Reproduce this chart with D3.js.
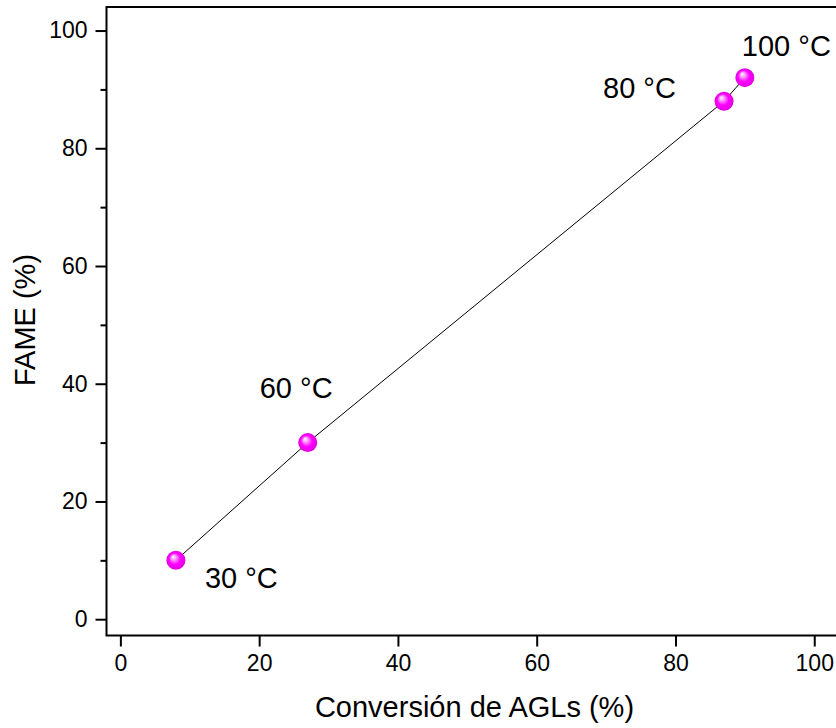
<!DOCTYPE html>
<html><head><meta charset="utf-8">
<script src="https://d3js.org/d3.v7.min.js"></script>
<style>body{margin:0;background:#fff}svg{display:block;font-family:"Liberation Sans",Arial,sans-serif}</style>
</head><body>
<svg id="c" width="836" height="728"></svg>
<script>
const conversion = [8, 27, 87, 90];
const fame = [10, 30, 88, 92];
const labels = ["30 °C", "60 °C", "80 °C", "100 °C"];
const xTicks = [0, 20, 40, 60, 80, 100];
const yTicks = [0, 20, 40, 60, 80, 100];
const yMinor = [10, 30, 50, 70, 90];

const svg = d3.select("#c");
const L = 106.5, R = 842, T = 7, B = 635.5;
const x = d3.scaleLinear().domain([-2, 104]).range([L, R]);
const y = d3.scaleLinear().domain([-2.77, 104]).range([B, T]);

const defs = svg.append("defs");
const g = defs.append("radialGradient").attr("id","ball").attr("cx","0.5").attr("cy","0.5").attr("r","0.5").attr("fx","0.35").attr("fy","0.3");
g.append("stop").attr("offset","0").attr("stop-color","#ffffff");
g.append("stop").attr("offset","0.25").attr("stop-color","#ff9cff");
g.append("stop").attr("offset","0.6").attr("stop-color","#ff00ff");
g.append("stop").attr("offset","1").attr("stop-color","#e000e0");

// frame
svg.append("rect").attr("x",L).attr("y",T).attr("width",R-L).attr("height",B-T)
  .attr("fill","none").attr("stroke","#000").attr("stroke-width",2);

svg.append("g").attr("transform",`translate(0,${B})`)
  .call(d3.axisBottom(x).tickValues(xTicks).tickSize(11).tickPadding(8));
svg.append("g").attr("transform",`translate(${L},0)`)
  .call(d3.axisLeft(y).tickValues(yTicks).tickSize(11).tickPadding(8));
svg.append("g").attr("transform",`translate(${L},0)`)
  .call(d3.axisLeft(y).tickValues(yMinor).tickSize(6).tickFormat(""));
svg.selectAll(".domain").remove();
svg.selectAll(".tick line").attr("stroke","#000").attr("stroke-width",2);
svg.selectAll(".tick text").attr("font-size",23).attr("fill","#000").attr("font-family","Liberation Sans, Arial, sans-serif");

// line
const line = d3.line().x((d,i)=>x(conversion[i])).y((d,i)=>y(fame[i]));
svg.append("path").datum(fame).attr("d",line).attr("fill","none").attr("stroke","#000").attr("stroke-width",1);

// markers
svg.selectAll("circle.pt").data(fame).enter().append("circle").attr("class","pt")
  .attr("cx",(d,i)=>x(conversion[i])).attr("cy",d=>y(d)).attr("r",9.5).attr("fill","url(#ball)");

// labels
const off = [[29,28],[-48,-45],[-121,-3],[-3,-22]];
svg.selectAll("text.lab").data(labels).enter().append("text").attr("class","lab")
  .attr("x",(d,i)=>x(conversion[i])+off[i][0]).attr("y",(d,i)=>y(fame[i])+off[i][1])
  .attr("font-size",29).attr("fill","#000").text(d=>d);

// axis titles
svg.append("text").attr("x",474.5).attr("y",716.5).attr("text-anchor","middle").attr("font-size",29).text("Conversión de AGLs (%)");
svg.append("text").attr("transform","translate(35,320) rotate(-90)").attr("text-anchor","middle").attr("font-size",29).text("FAME (%)");
</script>
</body></html>
